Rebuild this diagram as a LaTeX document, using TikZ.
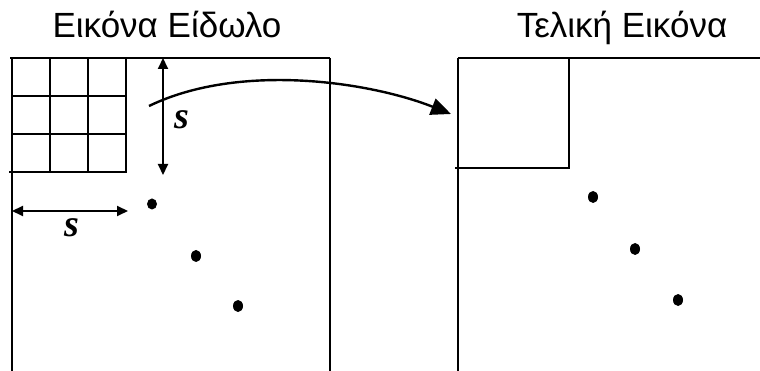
\documentclass[tikz,border=0pt]{standalone}
\usepackage{fontspec}
\setmainfont{Liberation Sans}
\newfontfamily\sfont{Liberation Serif}
\usetikzlibrary{arrows.meta}
\begin{document}
\begin{tikzpicture}[x=1pt,y=-1pt,
  frame/.style={line width=2.6pt},
  dim/.style={line width=2pt,{Triangle[length=11pt,width=10pt]}-{Triangle[length=11pt,width=10pt]}},
  title/.style={font=\fontsize{35}{40}\selectfont,inner sep=0pt},
  slabel/.style={font=\sfont\bfseries\itshape\fontsize{38}{40}\selectfont,inner sep=0pt},
]
\useasboundingbox[fill=white] (0,0) rectangle (760,371);
% titles
\node[title,anchor=base] (t1) at (167,38) {Εικόνα Είδωλο};
\node[title,anchor=base] (t2) at (622,38) {Τελική Εικόνα};
% left frame
\draw[frame] (10,58) -- (330,58);
\draw[frame] (12,58) -- (12,371);
\draw[frame] (330,58) -- (330,371);
% grid
\draw[frame] (12,58) rectangle (126,172);
\draw[frame] (50,58) -- (50,172) (88,58) -- (88,172);
\draw[frame] (12,96) -- (126,96) (12,134) -- (126,134);
\draw[frame] (9,172) -- (12,172);
% dimension arrows
\coordinate (va) at (163,58);
\coordinate (vb) at (163,175);
\draw[dim] (va) -- (vb);
\node[slabel] (s1) at (182,120) {s};
\coordinate (ha) at (12,211);
\coordinate (hb) at (128,211);
\draw[dim] (ha) -- (hb);
\node[slabel] (s2) at (72,228) {s};
% dots left
\fill (152,204) ellipse (5 and 5.5);
\fill (196,256) ellipse (5 and 6);
\fill (238,306) ellipse (5 and 6);
% right frame
\draw[frame] (458,58) -- (760,58);
\draw[frame] (458,58) -- (458,371);
\draw[frame] (455,168) -- (569,168) -- (569,58);
% dots right
\fill (593,197) ellipse (5 and 6);
\fill (635,249) ellipse (5 and 6);
\fill (678,300) ellipse (5 and 6);
% curved arrow
\coordinate (cs) at (149,106);
\coordinate (ce) at (451,114);
\draw[line width=2.4pt,-{Triangle[length=20pt,width=17pt]}] (cs) .. controls (240,62) and (370,82) .. (ce);
\end{tikzpicture}
\end{document}
